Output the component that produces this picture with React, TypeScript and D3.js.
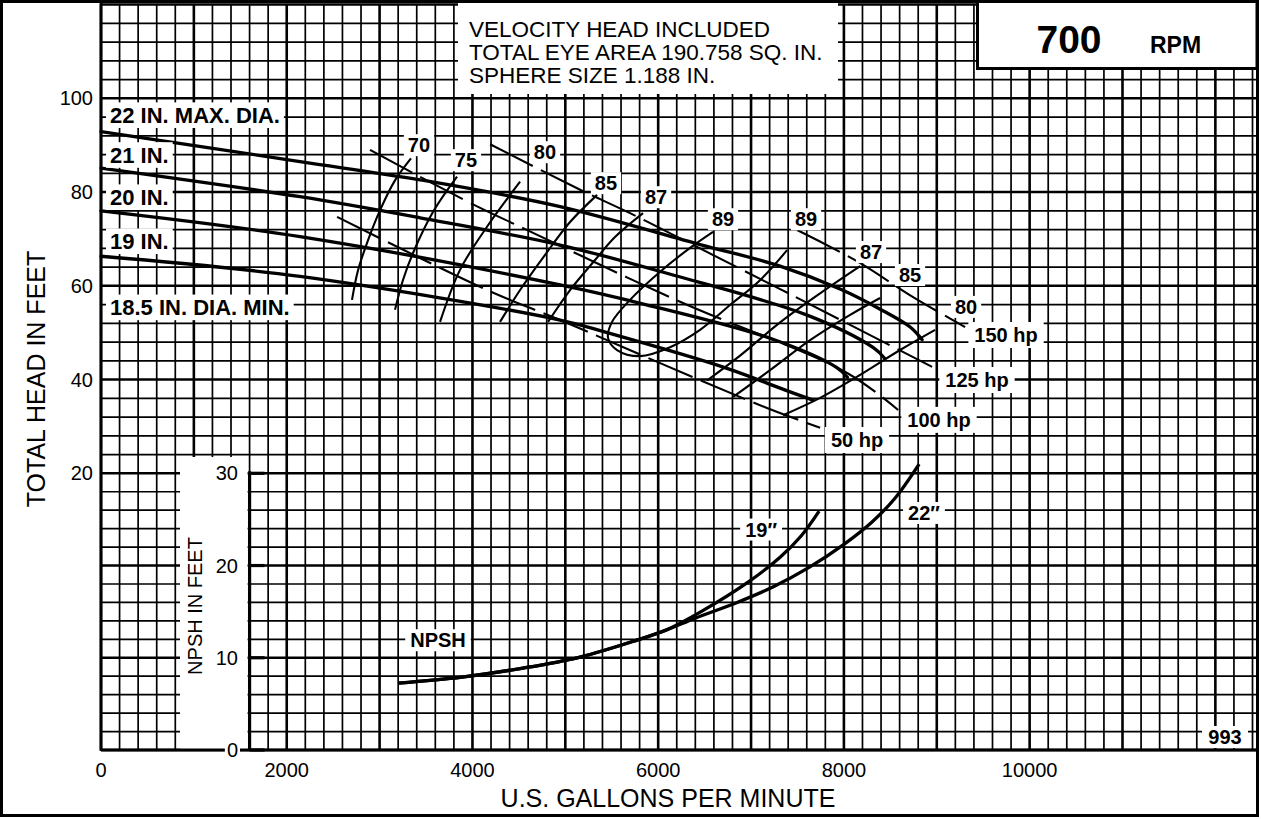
import React from 'react';
import * as d3 from 'd3';

const W = 1261;
const H = 819;
const FONT = '"Liberation Sans", Arial, Helvetica, sans-serif';

type P = [number, number];

// ---- axis ticks ----
const gpmTicks = [0, 2000, 4000, 6000, 8000, 10000];
const headTicks = [20, 40, 60, 80, 100];
const npshTicks = [0, 10, 20, 30];

// ---- head-capacity curves [GPM, ft] ----
const head22: P[] = [[0, 92.9], [2143, 86.5], [3436, 82.6], [4944, 76.9], [6451, 68.8], [7313, 64.2], [7959, 59.3], [8390, 55.0], [8713, 51.2], [8842, 48.5]];
const head21: P[] = [[0, 85.1], [2143, 79.0], [3436, 74.5], [4944, 68.7], [6158, 62.3], [7597, 53.8], [8317, 46.8], [8440, 44.5]];
const head20: P[] = [[0, 76.0], [2143, 70.5], [4944, 60.2], [5864, 56.0], [7235, 48.6], [7920, 42.6], [8038, 40.5]];
const head19: P[] = [[0, 66.3], [2143, 62.0], [4944, 52.7], [5451, 50.0], [6725, 42.5], [7362, 37.8], [7668, 35.6]];

// ---- iso-efficiency curves [GPM, ft] ----
const eff70: P[] = [[2703, 57.0], [2768, 63.3], [2875, 69.7], [3004, 76.1], [3166, 82.5], [3338, 87.2]];
const eff75: P[] = [[3166, 54.9], [3253, 61.3], [3360, 67.0], [3576, 75.8], [3834, 83.3]];
const eff80L: P[] = [[3651, 52.3], [3866, 63.4], [4157, 72.6], [4513, 82.2]];
const eff85L: P[] = [[4297, 52.3], [4513, 59.1], [4782, 66.6], [5051, 73.6], [5342, 79.4]];
const eff87L: P[] = [[4814, 52.3], [5051, 59.1], [5320, 65.5], [5535, 70.4], [5837, 75.5]];
const eff89: P[] = [[6591, 71.5], [6344, 68.1], [6021, 63.0], [5697, 57.0], [5503, 52.3], [5460, 48.9], [5557, 46.3], [5805, 45.0], [6128, 46.9], [6451, 50.6], [6774, 55.9], [7097, 61.2], [7388, 67.6]];
const eff87R: P[] = [[6526, 39.8], [6882, 45.1], [7313, 52.2], [7744, 58.4], [8175, 64.2]];
const eff85R: P[] = [[6807, 36.3], [7205, 42.0], [7636, 48.4], [8067, 53.8], [8390, 57.4]];
const eff80R: P[] = [[7345, 32.4], [7744, 36.1], [8175, 41.0], [8605, 46.3], [8982, 50.6]];

// ---- brake horsepower lines [GPM, ft] ----
const hp50: P[] = [[2542, 74.7], [4157, 59.1], [4944, 52.7], [6021, 43.5], [7151, 34.1], [7744, 29.7]];
const hp100: P[] = [[2897, 89.0], [3953, 77.9], [4545, 72.3], [6236, 56.6], [8034, 41.4], [8584, 33.5]];
const hp125: P[] = [[4190, 90.2], [5127, 80.8], [5697, 75.5], [6268, 69.8], [7313, 59.3], [8950, 42.7]];
const hp150: P[] = [[7496, 71.9], [8153, 65.1], [8745, 57.6], [9305, 51.2]];

// ---- NPSH required [GPM, ft] ----
const npsh19: P[] = [[3200, 7.26], [3888, 7.91], [4545, 8.88], [5159, 10.08], [5773, 11.92], [6085, 13.0], [6462, 15.0], [6968, 18.2], [7313, 20.9], [7539, 23.2], [7733, 25.9]];
const npsh22: P[] = [[3200, 7.26], [3888, 7.91], [4545, 8.88], [5159, 10.08], [5773, 11.92], [6085, 13.0], [6400, 14.3], [6850, 16.0], [7240, 17.7], [7625, 19.8], [8000, 22.3], [8300, 24.7], [8550, 27.3], [8810, 31.0]];

// ---- label texts ----
const diaLabels = ['22 IN. MAX. DIA.', '21 IN.', '20 IN.', '19 IN.', '18.5 IN. DIA. MIN.'];
const diaLabelHead = [96.4, 87.9, 78.9, 69.5, 55.4];
const effLabels = ['70', '75', '80', '85', '87', '89', '89', '87', '85', '80'];
const effLabelPos: P[] = [[3424, 90.0], [3930, 86.8], [4781, 88.5], [5438, 81.9], [5977, 78.9], [6698, 74.2], [7592, 74.2], [8292, 67.2], [8712, 62.3], [9315, 55.5]];
const hpLabels = ['150 hp', '125 hp', '100 hp', '50 hp'];
const hpLabelPos: P[] = [[9746, 49.5], [9433, 39.9], [9024, 31.4], [8141, 27.1]];
const npshLabels = ['NPSH', '19\u2033', '22\u2033'];
const npshLabelPos: P[] = [[3629, 11.9], [7108, 23.9], [8862, 25.7]];
const infoLines = ['VELOCITY HEAD INCLUDED', 'TOTAL EYE AREA 190.758 SQ. IN.', 'SPHERE SIZE 1.188 IN.'];

// ---- scales ----
const x = d3.scaleLinear().domain([0, 11000]).range([101, 1122.5]);
const yH = d3.scaleLinear().domain([20, 100]).range([473.3, 98.3]);
const yN = d3.scaleLinear().domain([0, 30]).range([750, 473.3]);

const X0 = x(0);
const XR = 1257;
const YT = yH(120);
const YB = yN(0);

const lineH = d3.line<P>().x(d => x(d[0])).y(d => yH(d[1])).curve(d3.curveCatmullRom.alpha(0.5));
const lineN = d3.line<P>().x(d => x(d[0])).y(d => yN(d[1])).curve(d3.curveCatmullRom.alpha(0.5));

let ctx: CanvasRenderingContext2D | null = null;
function textWidth(t: string, size: number, bold: boolean): number {
  if (!ctx && typeof document !== 'undefined') ctx = document.createElement('canvas').getContext('2d');
  if (!ctx) return t.length * size * 0.6;
  ctx.font = `${bold ? 'bold ' : ''}${size}px ${FONT}`;
  return ctx.measureText(t).width;
}

function Label({ cx, cy, text, size = 20, bold = true, anchor = 'middle', padX = 4, padY = 3 }:
  { cx: number; cy: number; text: string; size?: number; bold?: boolean; anchor?: string; padX?: number; padY?: number }) {
  const w = textWidth(text, size, bold);
  const left = anchor === 'middle' ? cx - w / 2 : anchor === 'end' ? cx - w : cx;
  const h = size * 0.8 + padY * 2;
  return (
    <g>
      <rect x={left - padX} y={cy - h / 2} width={w + padX * 2} height={h} fill="#fff" />
      <text x={left} y={cy + size * 0.36} fontSize={size} fontWeight={bold ? 'bold' : 'normal'} fontFamily={FONT} fill="#000">{text}</text>
    </g>
  );
}

export default function App() {
  const vLines = d3.range(0, 12401, 200);
  const hHead = d3.range(120, 19, -4);
  const hNpsh = d3.range(28, -1, -2);

  const headCurves = [head22, head21, head20, head19];
  const effCurves = [eff70, eff75, eff80L, eff85L, eff87L, eff89, eff87R, eff85R, eff80R];
  const hpCurves = [hp50, hp100, hp125, hp150];
  const npshCurves = [npsh19, npsh22];

  return (
    <svg width={W} height={H} viewBox={`0 0 ${W} ${H}`} style={{ position: 'absolute', left: 0, top: 0, background: '#fff' }}>
      <rect x={0} y={0} width={W} height={H} fill="#fff" />
      {/* grid */}
      <g stroke="#000">
        {vLines.map(q => (
          <line key={'v' + q} x1={x(q)} x2={x(q)} y1={YT} y2={YB} strokeWidth={q % 1000 === 0 ? 2.6 : 1.7} />
        ))}
        {hHead.map(h => (
          <line key={'h' + h} x1={X0} x2={XR} y1={yH(h)} y2={yH(h)} strokeWidth={h % 20 === 0 ? 2.6 : 1.7} />
        ))}
        {hNpsh.map(n => (
          <line key={'n' + n} x1={X0} x2={XR} y1={yN(n)} y2={yN(n)} strokeWidth={n % 10 === 0 ? 2.6 : 1.7} />
        ))}
      </g>

      {/* white panels */}
      <rect x={458} y={3} width={380} height={91} fill="#fff" />
      <rect x={180} y={457} width={x(1600) - 182} height={YB - 458} fill="#fff" />
      <rect x={1202} y={727} width={46} height={21} fill="#fff" />

      {/* axis lines */}
      <line x1={X0} x2={X0} y1={0} y2={YB + 1} stroke="#000" strokeWidth={2.8} />
      <line x1={X0} x2={XR} y1={YB} y2={YB} stroke="#000" strokeWidth={2.8} />

      {/* NPSH axis */}
      <line x1={x(1600)} x2={x(1600)} y1={yN(30) - 2} y2={YB + 1} stroke="#000" strokeWidth={3.2} />
      {npshTicks.map(n => (
        <line key={'nt' + n} x1={x(1600)} x2={x(1600) + 15} y1={yN(n)} y2={yN(n)} stroke="#000" strokeWidth={3.2} />
      ))}

      {/* power lines */}
      <g fill="none" stroke="#000" strokeWidth={2.1} strokeDasharray="48 9">
        {hpCurves.map((c, i) => <path key={'hp' + i} d={lineH(c) || ''} />)}
      </g>
      {/* efficiency curves */}
      <g fill="none" stroke="#000" strokeWidth={2.1}>
        {effCurves.map((c, i) => <path key={'e' + i} d={lineH(c) || ''} />)}
      </g>
      {/* head curves */}
      <g fill="none" stroke="#000" strokeWidth={3.3} strokeLinecap="round">
        {headCurves.map((c, i) => <path key={'hc' + i} d={lineH(c) || ''} />)}
      </g>
      {/* NPSH curves */}
      <g fill="none" stroke="#000" strokeWidth={3.3}>
        {npshCurves.map((c, i) => <path key={'np' + i} d={lineN(c) || ''} />)}
      </g>

      {/* labels on the chart */}
      {diaLabels.map((t, i) => (
        <Label key={'dl' + i} cx={110} cy={yH(diaLabelHead[i])} text={t} size={22} anchor="start" padX={4} padY={4} />
      ))}
      {effLabels.map((t, i) => (
        <Label key={'el' + i} cx={x(effLabelPos[i][0])} cy={yH(effLabelPos[i][1])} text={t} size={20} />
      ))}
      {hpLabels.map((t, i) => (
        <Label key={'hl' + i} cx={x(hpLabelPos[i][0])} cy={yH(hpLabelPos[i][1])} text={t} size={20} padX={6} padY={5} />
      ))}
      {npshLabels.map((t, i) => (
        <Label key={'nl' + i} cx={x(npshLabelPos[i][0])} cy={yN(npshLabelPos[i][1])} text={t} size={20} padX={5} />
      ))}
      <Label cx={1225} cy={737} text="993" size={20} />

      {/* info box text */}
      {infoLines.map((t, i) => (
        <text key={'info' + i} x={469} y={37 + i * 23} fontSize={22.5} fontFamily={FONT} fill="#000">{t}</text>
      ))}

      {/* RPM box */}
      <rect x={977.5} y={1.5} width={279.5} height={67} fill="#fff" stroke="#000" strokeWidth={3} />
      <text x={1069} y={53} textAnchor="middle" fontSize={39} fontWeight="bold" fontFamily={FONT}>700</text>
      <text x={1150} y={53} fontSize={23} fontWeight="bold" fontFamily={FONT}>RPM</text>

      {/* head axis tick labels */}
      {headTicks.map(h => (
        <text key={'ht' + h} x={93} y={yH(h) + 7} textAnchor="end" fontSize={20} fontFamily={FONT}>{h}</text>
      ))}
      {/* NPSH tick labels */}
      {npshTicks.map(n => (
        n === 0
          ? <Label key={'ntl' + n} cx={238} cy={yN(n)} text="0" size={20} bold={false} anchor="end" padX={2} padY={2} />
          : <text key={'ntl' + n} x={238} y={yN(n) + 7} textAnchor="end" fontSize={20} fontFamily={FONT}>{n}</text>
      ))}
      {/* GPM tick labels */}
      {gpmTicks.map(q => (
        <text key={'gt' + q} x={x(q)} y={777} textAnchor="middle" fontSize={20} fontFamily={FONT}>{q}</text>
      ))}

      {/* axis titles */}
      <text x={668} y={807} textAnchor="middle" fontSize={25} fontFamily={FONT}>U.S. GALLONS PER MINUTE</text>
      <text transform={`translate(45,379) rotate(-90)`} textAnchor="middle" fontSize={25} fontFamily={FONT}>TOTAL HEAD IN FEET</text>
      <text transform={`translate(202,606) rotate(-90)`} textAnchor="middle" fontSize={20} fontFamily={FONT}>NPSH IN FEET</text>

      {/* outer frame */}
      <rect x={1.5} y={1.5} width={1256} height={814} fill="none" stroke="#000" strokeWidth={3} />
    </svg>
  );
}
